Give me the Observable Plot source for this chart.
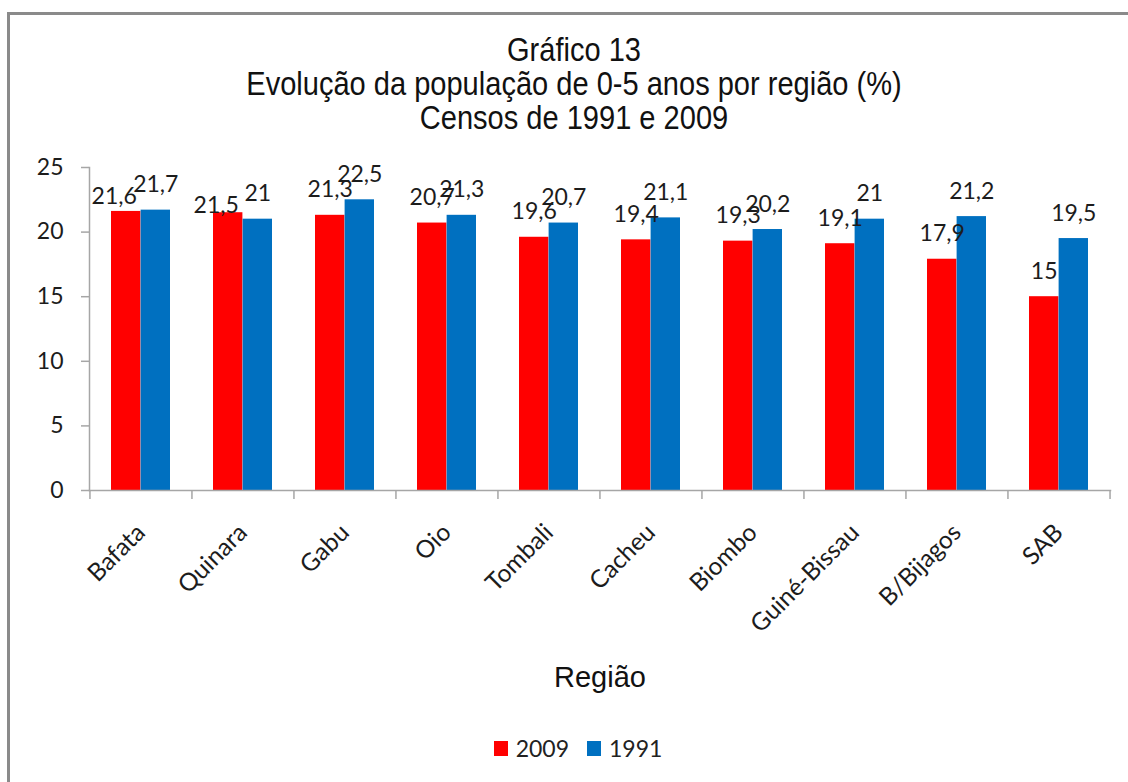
<!DOCTYPE html>
<html>
<head>
<meta charset="utf-8">
<script src="https://cdn.jsdelivr.net/npm/d3@7"></script>
<script src="https://cdn.jsdelivr.net/npm/@observablehq/plot@0.6"></script>
<style>
  html, body { margin: 0; padding: 0; background: #fff; }
  body { width: 1128px; height: 782px; position: relative; overflow: hidden; }
  #border { position: absolute; z-index: 10; pointer-events: none; left: 7px; top: 12px; width: 1200px; height: 900px; border-left: 3px solid #8a8a8a; border-top: 3px solid #8a8a8a; box-sizing: border-box; }
  #title { position: absolute; left: 0; top: 33px; width: 1148px; text-align: center; font-family: "Liberation Sans", Arial, sans-serif; font-size: 33px; line-height: 34px; color: #111; transform: scaleX(0.88); transform-origin: 574px 0; }
  #chart { position: absolute; left: 0; top: 150px; }
  #legend { position: absolute; left: 0; top: 734px; width: 1156px; display: flex; justify-content: center; align-items: center; font-family: Lato, "Open Sans", sans-serif; font-size: 23px; color: #222; }
  #legend .sw { display: inline-block; width: 14px; height: 15px; margin-right: 8px; }
  #legend .item { display: flex; align-items: center; margin: 0 9px; }
</style>
</head>
<body>
<div id="border"></div>
<div id="title">Gráfico 13<br>Evolução da população de 0-5 anos por região (%)<br>Censos de 1991 e 2009</div>
<div id="chart"></div>
<div id="legend"></div>
<script>
const regions = ["Bafata","Quinara","Gabu","Oio","Tombali","Cacheu","Biombo","Guiné-Bissau","B/Bijagos","SAB"];
const values2009 = [21.6, 21.5, 21.3, 20.7, 19.6, 19.4, 19.3, 19.1, 17.9, 15];
const values1991 = [21.7, 21, 22.5, 21.3, 20.7, 21.1, 20.2, 21, 21.2, 19.5];
const seriesNames = ["2009", "1991"];
const seriesColors = ["#ff0000", "#0070c0"];
const yTicks = [0, 5, 10, 15, 20, 25];
const axisTitle = "Região";

const data2009 = regions.map((r, i) => ({region: r, value: values2009[i], other: values1991[i]}));
const data1991 = regions.map((r, i) => ({region: r, value: values1991[i]}));

const W = 1128, H = 550, ML = 89, MR = 18, MT = 17, MB = 210;
const padIn = 0.42;
const step = (W - ML - MR) / regions.length;
const bw = step * (1 - padIn);
const gray = "#a6a6a6";
const ink = "#1c1c1c";
const fmt = d => String(d).replace(".", ",");
// a 2009 label that would land on its 1991 neighbour is moved aside (left and just under it)
const clash = d => Math.abs(d.value - d.other) < 0.55;

const chart = Plot.plot({
  width: W, height: H,
  marginLeft: ML, marginRight: MR, marginTop: MT, marginBottom: MB,
  style: {fontFamily: "Lato, 'Open Sans', sans-serif", fontSize: "23px", color: ink, background: "transparent"},
  x: {domain: regions, paddingInner: padIn, paddingOuter: padIn / 2, label: null},
  y: {domain: [0, 25], label: null},
  marks: [
    Plot.barY(data2009, {x: "region", y: "value", fill: seriesColors[0], insetRight: bw / 2}),
    Plot.barY(data1991, {x: "region", y: "value", fill: seriesColors[1], insetLeft: bw / 2}),
    Plot.text(data2009.filter(d => !clash(d)), {x: "region", y: "value", text: d => fmt(d.value), dx: -bw / 4, dy: -18, lineAnchor: "bottom", fontSize: 23, fill: ink}),
    Plot.text(data2009.filter(clash), {x: "region", y: "other", text: d => fmt(d.value), dx: -bw / 4 - 12, dy: -6, lineAnchor: "bottom", fontSize: 23, fill: ink}),
    Plot.text(data1991, {x: "region", y: "value", text: d => fmt(d.value), dx: bw / 4, dy: -18, lineAnchor: "bottom", fontSize: 23, fill: ink}),
    Plot.frame({anchor: "left", stroke: gray, strokeWidth: 1.5}),
    Plot.frame({anchor: "bottom", stroke: gray, strokeWidth: 1.5}),
    Plot.axisY({ticks: yTicks, tickSize: 8, tickPadding: 18, stroke: gray, strokeWidth: 1.5, fontSize: 23, fill: ink, label: null, tickFormat: d => String(d)}),
    Plot.axisX({tickSize: 9, tickFormat: () => "", dx: -step / 2, stroke: gray, strokeWidth: 1.5, label: null}),
    Plot.axisX({ticks: [regions[regions.length - 1]], tickSize: 9, tickFormat: () => "", dx: step / 2, stroke: gray, strokeWidth: 1.5, label: null}),
    Plot.text(regions, {x: d => d, text: d => d, frameAnchor: "bottom", rotate: -45, textAnchor: "end", lineAnchor: "middle", dx: 0, dy: 38, fontSize: 24.5, fill: ink}),
    Plot.text([axisTitle], {frameAnchor: "bottom", text: d => d, dy: 196, dx: 0, fontSize: 29, fontFamily: "'Liberation Sans', Arial, sans-serif", fill: "#111"})
  ]
});
document.getElementById("chart").appendChild(chart);

const legend = document.getElementById("legend");
seriesNames.forEach((name, i) => {
  const item = document.createElement("span");
  item.className = "item";
  const sw = document.createElement("span");
  sw.className = "sw";
  sw.style.background = seriesColors[i];
  item.appendChild(sw);
  item.appendChild(document.createTextNode(name));
  legend.appendChild(item);
});
</script>
</body>
</html>
